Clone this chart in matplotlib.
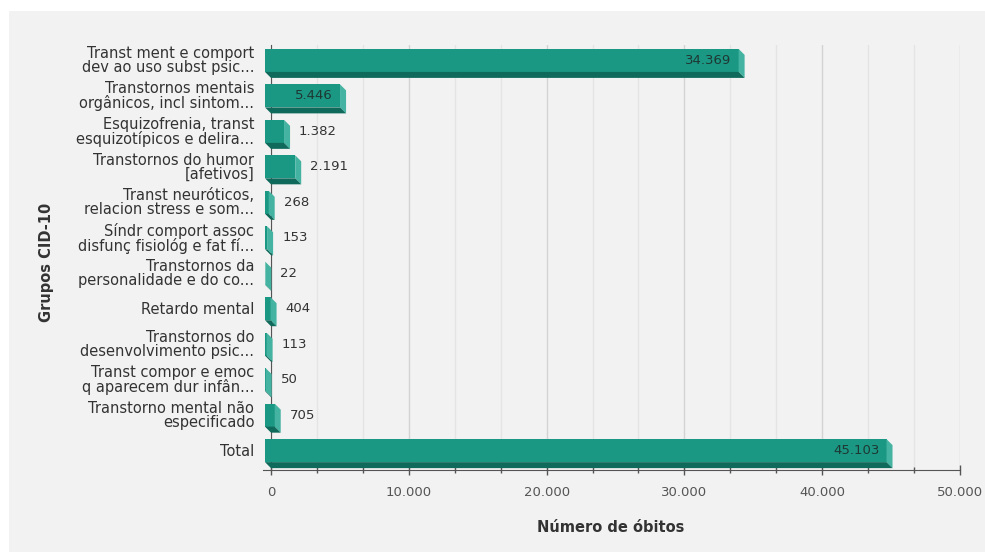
import matplotlib.pyplot as plt
import matplotlib.ticker as mticker
from matplotlib.patches import Polygon, Rectangle

categories = [
    "Transt ment e comport\ndev ao uso subst psic...",
    "Transtornos mentais\norgânicos, incl sintom...",
    "Esquizofrenia, transt\nesquizotípicos e delira...",
    "Transtornos do humor\n[afetivos]",
    "Transt neuróticos,\nrelacion stress e som...",
    "Síndr comport assoc\ndisfunç fisiológ e fat fí...",
    "Transtornos da\npersonalidade e do co...",
    "Retardo mental",
    "Transtornos do\ndesenvolvimento psic...",
    "Transt compor e emoc\nq aparecem dur infân...",
    "Transtorno mental não\nespecificado",
    "Total",
]
values = [34369, 5446, 1382, 2191, 268, 153, 22, 404, 113, 50, 705, 45103]
x_ticks = [0, 10000, 20000, 30000, 40000, 50000]

W, H = 985, 552
front_c = "#1b9884"
side_c = "#45b3a1"
bottom_c = "#0f6a5b"
text_c = "#333333"

fig = plt.figure(figsize=(W / 100, H / 100), dpi=100, facecolor="white")
fig.patches.append(Rectangle((9 / W, 0), 1, 1 - 11 / H, transform=fig.transFigure,
                             facecolor="#f2f2f2", edgecolor="none", zorder=-10))

# axes in pixels: x 271..960, y 45..470 (from top)
left, right, top, bottom = 271, 960, 45, 470
ax = fig.add_axes([left / W, 1 - bottom / H, (right - left) / W, (bottom - top) / H])
ax.set_facecolor("none")
ax.set_xlim(0, 50000)
ax.set_ylim(11.56, -0.42)

px_x = 50000 / (right - left)
px_y = (11.56 + 0.42) / (bottom - top)
dx = 6 * px_x
dy = 6 * px_y
h = 23 * px_y

# grid
minor = [i * 10000 / 3 for i in range(16)]
for m in minor:
    major = abs(m / 10000 - round(m / 10000)) < 1e-6
    ax.axvline(m, color="#d3d3d3" if major else "#e4e4e4", lw=1, zorder=0)

for i, v in enumerate(values):
    y0 = i - 11 * px_y
    y1 = y0 + h
    # front face
    ax.add_patch(Polygon([(-dx, y0), (v - dx, y0), (v - dx, y1), (-dx, y1)],
                         closed=True, facecolor=front_c, edgecolor="none",
                         clip_on=False, zorder=3))
    # right side face
    ax.add_patch(Polygon([(v - dx, y0), (v, y0 + dy), (v, y1 + dy), (v - dx, y1)],
                         closed=True, facecolor=side_c, edgecolor="none",
                         clip_on=False, zorder=3))
    # bottom face
    ax.add_patch(Polygon([(-dx, y1), (v - dx, y1), (v, y1 + dy), (0, y1 + dy)],
                         closed=True, facecolor=bottom_c, edgecolor="none",
                         clip_on=False, zorder=3))
    label = f"{v:,}".replace(",", ".")
    yc = (y0 + y1) / 2
    if v > 3000:
        ax.text(v - dx - 7 * px_x, yc, label, ha="right", va="center",
                fontsize=9.5, color="#1e3833", zorder=5)
    else:
        ax.text(v + 9 * px_x, yc, label, ha="left", va="center",
                fontsize=9.5, color=text_c, zorder=5)

ax.set_yticks(range(len(categories)))
ax.set_yticklabels(categories, fontsize=10.5, color=text_c, linespacing=0.92)
ax.tick_params(axis="y", length=0, pad=12)

ax.set_xticks(x_ticks)
ax.xaxis.set_major_formatter(mticker.FuncFormatter(lambda x, p: f"{int(x):,}".replace(",", ".")))
ax.xaxis.set_minor_locator(mticker.FixedLocator(minor))
ax.tick_params(axis="x", which="major", direction="inout", length=7, width=1,
               color="#555555", labelsize=9.5, labelcolor="#555555", pad=8)
ax.tick_params(axis="x", which="minor", direction="inout", length=5, width=1,
               color="#555555")

for s in ["top", "right"]:
    ax.spines[s].set_visible(False)
ax.spines["left"].set_color("#555555")
ax.spines["bottom"].set_color("#555555")
ax.spines["bottom"].set_bounds(-dx - 2 * px_x, 50000)

fig.text(47 / W, 1 - 262 / H, "Grupos CID-10", rotation=90, ha="center", va="center",
         fontsize=10.5, fontweight="bold", color=text_c)
fig.text(611 / W, 1 - 527 / H, "Número de óbitos", ha="center", va="center",
         fontsize=10.5, fontweight="bold", color=text_c)

fig.savefig("out.png", dpi=100, facecolor="white")
